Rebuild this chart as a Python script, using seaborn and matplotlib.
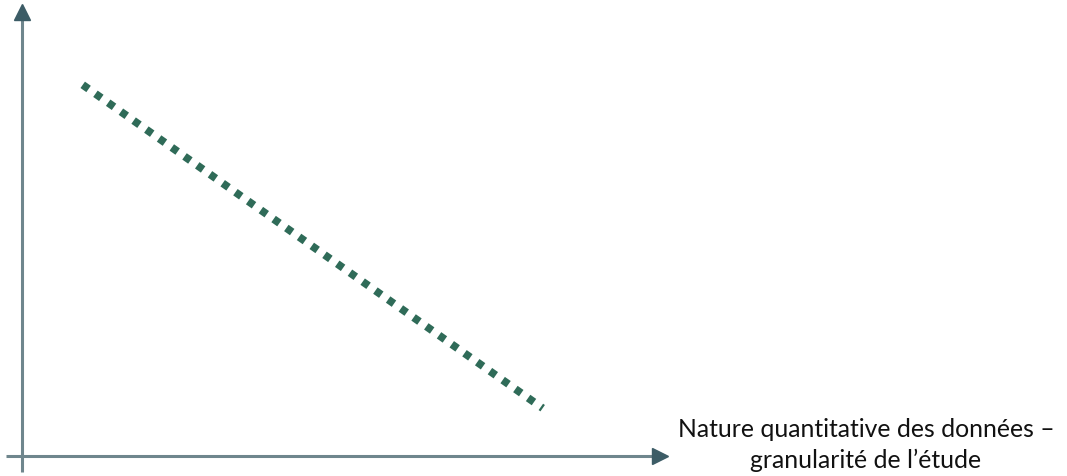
import matplotlib
matplotlib.use("Agg")
import matplotlib.pyplot as plt
import seaborn as sns
import pandas as pd

# Data (abstract units, 0-100 on each axis)
line_x = [9.4, 80.6]
line_y = [82.3, 10.6]
x_label = "Nature quantitative des données –\ngranularité de l\u2019étude"

sns.set_style("white")
plt.rcParams['font.family'] = ['Lato', 'DejaVu Sans']

W, H = 1067, 476
fig = plt.figure(figsize=(W / 100, H / 100), dpi=100)
ax = fig.add_axes([22 / W, (H - 456) / H, (668 - 22) / W, (456 - 5) / H])
ax.set_xlim(0, 100)
ax.set_ylim(0, 100)

df = pd.DataFrame({"x": line_x, "y": line_y})
sns.lineplot(data=df, x="x", y="y", ax=ax, color="#2f6b58", linewidth=5.6,
             estimator=None, sort=False)
ln = ax.lines[-1]
ln.set_dashes((0.92, 1.08))
ln.set_dash_capstyle("butt")

axis_color = "#6f868d"
head_color = "#3c5c66"
# y axis
ax.plot([0, 0], [-16 / 451, 0.97], transform=ax.transAxes, color=axis_color,
        lw=2.2, clip_on=False, solid_capstyle="butt")
ax.plot([0], [0.985], transform=ax.transAxes, marker="^", ms=11.5,
        color=head_color, clip_on=False, linestyle="none")
# x axis
ax.plot([-16 / 646, 0.975], [0, 0], transform=ax.transAxes, color=axis_color,
        lw=2.2, clip_on=False, solid_capstyle="butt")
ax.plot([0.988], [0], transform=ax.transAxes, marker=">", ms=11.5,
        color=head_color, clip_on=False, linestyle="none")

for s in ax.spines.values():
    s.set_visible(False)
ax.set_xticks([])
ax.set_yticks([])
ax.set_xlabel("")
ax.set_ylabel("")

fig.text(866 / W, 1 - 445 / H, x_label, ha="center", va="center",
         fontsize=17.8, color="#111111", linespacing=1.4)

fig.savefig("out.png", dpi=100)
